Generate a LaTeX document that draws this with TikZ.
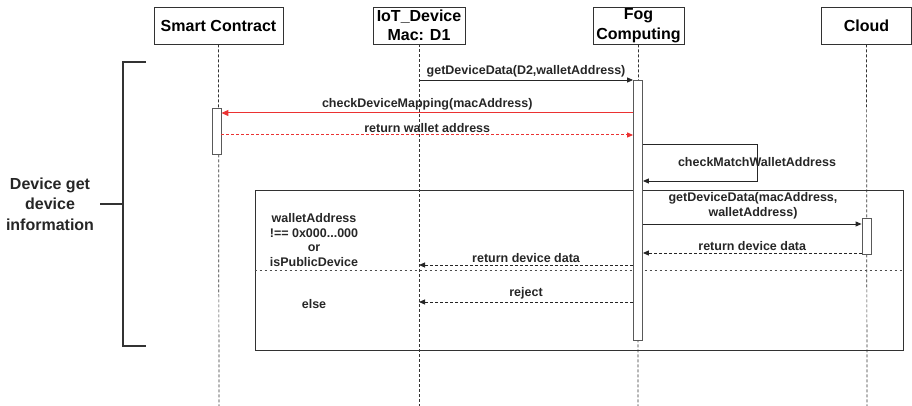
\documentclass[tikz,border=0pt]{standalone}
\usepackage{fontspec}
\setmainfont{Liberation Sans}
\usetikzlibrary{arrows.meta}
\definecolor{redline}{RGB}{235,50,50}
\definecolor{boxline}{RGB}{50,50,50}
\tikzset{
  part/.style={draw=boxline, line width=0.9pt, fill=white, minimum height=37pt, inner sep=1pt, align=center, font=\fontsize{16}{19.5}\selectfont\bfseries},
  life/.style={draw=black!80, line width=0.7pt, dash pattern=on 3pt off 2pt},
  actbox/.style={draw=black!65, line width=0.8pt, fill=white, minimum width=9pt, inner sep=0pt},
  msg/.style={draw=black!85, line width=0.9pt, -{Triangle[length=6pt,width=5pt]}},
  ret/.style={msg, dash pattern=on 3pt off 2pt},
  lbl/.style={font=\fontsize{12.5}{15}\selectfont\bfseries, text=black!85, align=center, inner sep=1pt},
  guard/.style={font=\fontsize{12.5}{14.7}\selectfont\bfseries, text=black!85, align=center},
}
\begin{document}
\begin{tikzpicture}[x=1pt,y=-1pt]
\useasboundingbox (0,0) rectangle (912,406);
% participants
\node[part, minimum width=129pt] (sc) at (218.5,25.5) {Smart Contract};
\node[part, minimum width=92pt] (iot) at (419,25.5) {IoT\_Device\\Mac: D1};
\node[part, minimum width=91pt] (fog) at (638.5,25.5) {Fog\\Computing};
\node[part, minimum width=90pt] (cl) at (866.5,25.5) {Cloud};
% lifeline ends
\coordinate (scE) at (219,406);
\coordinate (iotE) at (419,406);
\coordinate (fogE) at (638,406);
\coordinate (clE) at (867,406);
% frame
\node[draw=boxline, line width=0.8pt, minimum width=648pt, minimum height=160pt, inner sep=0pt] (frame) at (579,270) {};
\draw[life] (sc.south) -- (scE);
\draw[life] (iot.south) -- (iotE);
\draw[life] (fog.south) -- (fogE);
\draw[life] (cl.south) -- (clE);
\draw[draw=black!70, line width=0.7pt, dash pattern=on 2.5pt off 2.5pt] (frame.west) -- (frame.east);
% activations
\node[actbox, minimum height=260pt] (fogA) at (638,210) {};
\node[actbox, minimum height=46pt] (scA) at (216.5,131) {};
\node[actbox, minimum height=36pt] (clA) at (866.5,236) {};
% messages
\draw[msg] (iot.south |- 0,80) -- node[lbl, above=1pt] {getDeviceData(D2,walletAddress)} (fogA.west |- 0,80);
\draw[msg, draw=redline, color=redline, line width=1pt, -{Triangle[length=7pt,width=6pt]}] (fogA.west |- 0,113) -- node[lbl, above=1pt] {checkDeviceMapping(macAddress)} (scA.east |- 0,113);
\draw[ret, draw=redline, color=redline, line width=1pt] (scA.east |- 0,135) -- node[lbl, above=1pt] {return wallet address} (fogA.west |- 0,135);
\coordinate (selfR) at (757,144);
\draw[msg] (fogA.east |- 0,144) -- (selfR) -- (selfR |- 0,181) -- (fogA.east |- 0,181);
\node[lbl] (selfL) at (757,162) {checkMatchWalletAddress};
\draw[msg] (fogA.east |- 0,224) -- (clA.west |- 0,224);
\node[lbl, fill=white, inner xsep=3pt] (gdd) at (753,205.5) {getDeviceData(macAddress,\\walletAddress)};
\draw[ret] (clA.west |- 0,253) -- node[lbl, above=1pt] {return device data} (fogA.east |- 0,253);
\draw[ret] (fogA.west |- 0,265) -- node[lbl, above=1pt] {return device data} (iot.south |- 0,265);
\draw[ret] (fogA.west |- 0,302) -- node[lbl, above=1pt] {reject} (iot.south |- 0,302);
% guards
\node[guard] (g1) at (314,240) {walletAddress\\!== 0x000...000\\or\\isPublicDevice};
\node[guard] (g2) at (314,304) {else};
% bracket
\draw[draw=black!80, line width=1.6pt] (146,62) -- (123,62) -- (123,346) -- (146,346);
\draw[draw=black!80, line width=1.6pt] (100,204) -- (123,204);
\node[font=\fontsize{16}{20.5}\selectfont\bfseries, text=black!85, align=center] (bl) at (50,204) {Device get\\device\\information};
\end{tikzpicture}
\end{document}
